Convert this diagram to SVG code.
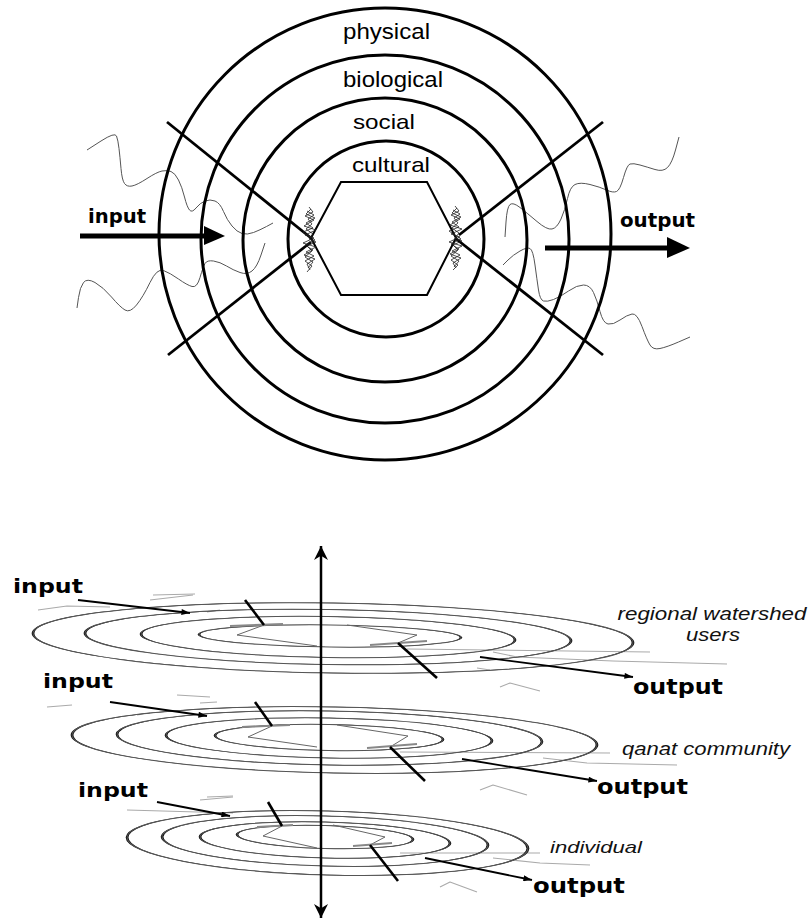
<svg xmlns="http://www.w3.org/2000/svg" xmlns:xlink="http://www.w3.org/1999/xlink" width="811" height="923" viewBox="0 0 811 923">
<style>
.ring{fill:none;stroke:#000;stroke-width:3}
.hex{fill:none;stroke:#000;stroke-width:2}
.xl{fill:none;stroke:#000;stroke-width:2.8;stroke-linecap:butt}
.wave{fill:none;stroke:#555;stroke-width:1;stroke-linejoin:round}
.scrib{fill:none;stroke:#222;stroke-width:0.8;stroke-linejoin:round}
.lring{fill:none;stroke:#111}
.thin{fill:none;stroke:#555;stroke-width:1}
.lhex{fill:none;stroke:#666;stroke-width:1}
.lx{fill:none;stroke:#000;stroke-width:2.6}
.faint{fill:none;stroke:#aaa;stroke-width:1.1;stroke-linejoin:round}
.lscrib{fill:none;stroke:#888;stroke-width:2.2}
.lbl{font-family:"Liberation Sans",Arial,sans-serif;fill:#000}
.it{font-family:"Liberation Sans",Arial,sans-serif;font-style:italic;fill:#111}
.bold{font-family:"DejaVu Sans",Verdana,sans-serif;font-weight:bold;fill:#000}
.arr{fill:none;stroke:#000;stroke-width:1.8}
</style>
<defs>
<circle id="u" r="1"/>
<marker id="sm" viewBox="0 0 10 7" markerUnits="userSpaceOnUse" markerWidth="14" markerHeight="6" refX="10" refY="3.5" orient="auto"><path d="M0,0 L10,3.5 L0,7 z" fill="#000"/></marker>
<marker id="ax" viewBox="0 0 10 10" markerUnits="userSpaceOnUse" markerWidth="15" markerHeight="14" refX="10" refY="5" orient="auto-start-reverse"><path d="M0,0 L10,5 L0,10 L3,5 z" fill="#000"/></marker>
</defs>

<g id="top-diagram">
  <g id="wavy-lines">
    <path class="wave" d="M87,150 L101,141 Q115,132 116.5,136 Q118,140 119,148.5 Q120,157 121,168.5 Q122,180 124.5,183.5 Q127,187 132,186 Q137,185 147,178.5 Q157,172 162,171 Q167,170 171,171.5 Q175,173 178.5,180 Q182,187 184.5,197 Q187,207 189.5,210 Q192,213 196,208 Q200,203 205,201 Q210,199 215,201 Q220,203 223.5,211.5 Q227,220 232,226 Q237,232 242,233.5 Q247,235 253.5,232.5 Q260,230 266.5,226.5 L273,223"/>
    <path class="wave" d="M77,308 L78.5,297.5 Q80,287 83.5,282.5 Q87,278 95,282.5 Q103,287 111.5,297 Q120,307 125,310 Q130,313 136.5,305 Q143,297 150,282.5 Q157,268 163.5,270.5 Q170,273 178.5,279 Q187,285 192,286.5 Q197,288 200,277.5 Q203,267 205,263.5 Q207,260 213.5,261 Q220,262 226.5,266 Q233,270 240,272.5 Q247,275 252,271 Q257,267 261,255 L265,243"/>
    <path class="wave" d="M505,237 L506,222 Q507,207 510,204.5 Q513,202 520,207.5 Q527,213 537,221.5 Q547,230 552,229 Q557,228 561,219 Q565,210 567.5,198.5 Q570,187 575,184.5 Q580,182 590,184.5 Q600,187 606.5,190 Q613,193 616.5,191.5 Q620,190 623.5,177.5 Q627,165 630,164 Q633,163 640,165 Q647,167 655,169.5 Q663,172 667.5,167.5 Q672,163 675.5,150 L679,137"/>
    <path class="wave" d="M503,265 L508,260 Q513,255 520,251 Q527,247 530,248.5 Q533,250 535,265 Q537,280 538.5,290 Q540,300 543.5,301 Q547,302 553.5,299.5 Q560,297 568.5,291 Q577,285 583.5,285 Q590,285 593.5,292.5 Q597,300 600,311.5 Q603,323 608,324 Q613,325 620,320 Q627,315 632,314 Q637,313 642,326.5 Q647,340 650,345 Q653,350 660,348.5 Q667,347 678.5,342 L690,337"/>
  </g>
  <g id="ring-physical"><circle class="ring" cx="385" cy="234" r="226"/><text class="lbl" x="343" y="39" font-size="22" textLength="87" lengthAdjust="spacingAndGlyphs">physical</text></g>
  <g id="ring-biological"><circle class="ring" cx="385" cy="239" r="184"/><text class="lbl" x="343" y="87" font-size="22" textLength="100" lengthAdjust="spacingAndGlyphs">biological</text></g>
  <g id="ring-social"><circle class="ring" cx="385" cy="240" r="142"/><text class="lbl" x="353" y="129" font-size="21" textLength="62" lengthAdjust="spacingAndGlyphs">social</text></g>
  <g id="ring-cultural"><circle class="ring" cx="386" cy="239" r="98"/><text class="lbl" x="352" y="172" font-size="21" textLength="78" lengthAdjust="spacingAndGlyphs">cultural</text></g>
  <g id="hexagon"><polygon class="hex" points="311,238 341,182 427,182 456,238 427,295 341,295"/></g>
  <g id="cross-left">
    <line class="xl" x1="167" y1="122" x2="311" y2="238"/>
    <line class="xl" x1="168" y1="355" x2="311" y2="242"/>
    <polyline class="scrib" points="309,207 313,212 305,216 314,220 304,226 316,230 305,235 314,238 303,243 316,247 306,252 314,256 305,261 312,266 307,272"/>
    <polyline class="scrib" points="311,209 306,214 315,218 306,223 313,228 303,232 315,240 305,245 313,250 304,255 315,259 307,264 310,270"/>
    <polyline class="scrib" points="307,211 314,215 308,219 312,224 306,229 313,234 309,239 316,242 307,246 312,251 305,257 313,262 308,268"/>
  </g>
  <g id="cross-right">
    <line class="xl" x1="603" y1="122" x2="459" y2="235"/>
    <line class="xl" x1="603" y1="355" x2="455" y2="238"/>
    <polyline class="scrib" points="455,206 459,211 451,215 460,219 450,225 462,229 451,234 460,237 449,242 462,246 452,251 460,255 451,260 458,265 453,270"/>
    <polyline class="scrib" points="457,208 452,213 461,217 452,222 459,227 449,231 461,239 451,244 459,249 450,254 461,258 453,263 456,268"/>
    <polyline class="scrib" points="453,210 460,214 454,218 458,223 452,228 459,233 455,238 462,241 453,245 458,250 451,256 459,261 454,267"/>
  </g>
  <g id="top-input"><text class="bold" x="88" y="223" font-size="19" textLength="58" lengthAdjust="spacingAndGlyphs">input</text></g>
  <g id="top-output"><text class="bold" x="620" y="227" font-size="20" textLength="75" lengthAdjust="spacingAndGlyphs">output</text></g>
</g>

<g id="layer-regional">
  <g class="faint-lines">
    <polyline class="faint" points="38,610 67,606 110,607"/>
    <polyline class="faint" points="153,595 195,594"/>
    <polyline class="faint" points="150,600 193,595"/>
    <polyline class="faint" points="207,612 220,610"/>
    <polyline class="faint" points="407,649 650,652"/>
    <polyline class="faint" points="493,652 517,657 613,661 727,664"/>
    <polyline class="faint" points="500,687 510,683 540,691"/>
    <polyline class="faint" points="477,668 490,670"/>
  </g>
  <use href="#u" class="lring" transform="translate(333,638) rotate(0.9) scale(300,35)" style="stroke-width:0.0093"/>
  <use href="#u" class="lring" transform="translate(328,637) rotate(0.9) scale(243,27.5)" style="stroke-width:0.0115"/>
  <use href="#u" class="lring" transform="translate(328,637) rotate(0.9) scale(187,20.5)" style="stroke-width:0.015"/>
  <use href="#u" class="lring" transform="translate(330,636) rotate(0.7) scale(131,11)" style="stroke-width:0.021"/>
  <ellipse class="thin" cx="333" cy="638" rx="300" ry="35" transform="rotate(0.9 333 638)"/>
  <ellipse class="thin" cx="328" cy="637" rx="243" ry="27.5" transform="rotate(0.9 328 637)"/>
  <ellipse class="thin" cx="328" cy="637" rx="187" ry="20.5" transform="rotate(0.9 328 637)"/>
  <ellipse class="thin" cx="330" cy="636" rx="131" ry="11" transform="rotate(0.7 330 636)"/>
  <polyline class="lhex" points="264,625 237,635 317,646"/>
  <polyline class="lhex" points="347,625 417,635 398,643"/>
  <line class="lscrib" x1="230" y1="626" x2="283" y2="624"/>
  <line class="lscrib" x1="370" y1="645" x2="427" y2="641"/>
  <line class="lx" x1="245" y1="600" x2="264" y2="625"/>
  <line class="lx" x1="398" y1="643" x2="437" y2="678"/>
  <text class="bold" x="13" y="593" font-size="20" textLength="70" lengthAdjust="spacingAndGlyphs">input</text>
  <text class="it" x="712" y="620" font-size="17.5" text-anchor="middle" textLength="189" lengthAdjust="spacingAndGlyphs">regional watershed</text>
  <text class="it" x="713" y="641" font-size="18" text-anchor="middle" textLength="54" lengthAdjust="spacingAndGlyphs">users</text>
  <text class="bold" x="633" y="694" font-size="22" textLength="90" lengthAdjust="spacingAndGlyphs">output</text>
</g>

<g id="layer-qanat">
  <g class="faint-lines">
    <polyline class="faint" points="47,707 72,705"/>
    <polyline class="faint" points="137,715 150,713"/>
    <polyline class="faint" points="200,703 217,702"/>
    <polyline class="faint" points="177,695 210,697"/>
    <polyline class="faint" points="400,752 610,753"/>
    <polyline class="faint" points="543,758 587,763 677,765"/>
    <polyline class="faint" points="480,790 493,785 527,795"/>
  </g>
  <use href="#u" class="lring" transform="translate(334.5,740) rotate(1.1) scale(262.5,33)" style="stroke-width:0.0107"/>
  <use href="#u" class="lring" transform="translate(329.5,738) rotate(1) scale(212.5,27)" style="stroke-width:0.013"/>
  <use href="#u" class="lring" transform="translate(329,738) rotate(1) scale(163,20)" style="stroke-width:0.017"/>
  <use href="#u" class="lring" transform="translate(329,737.5) rotate(1) scale(114,13)" style="stroke-width:0.024"/>
  <ellipse class="thin" cx="334.5" cy="740" rx="262.5" ry="33" transform="rotate(1.1 334.5 740)"/>
  <ellipse class="thin" cx="329.5" cy="738" rx="212.5" ry="27" transform="rotate(1 329.5 738)"/>
  <ellipse class="thin" cx="329" cy="738" rx="163" ry="20" transform="rotate(1 329 738)"/>
  <ellipse class="thin" cx="329" cy="737.5" rx="114" ry="13" transform="rotate(1 329 737.5)"/>
  <polyline class="lhex" points="272,726 248,737 317,747"/>
  <polyline class="lhex" points="337,725 408,736 390,747"/>
  <line class="lscrib" x1="242" y1="727" x2="290" y2="725"/>
  <line class="lscrib" x1="367" y1="748" x2="417" y2="744"/>
  <line class="lx" x1="255" y1="702" x2="272" y2="726"/>
  <line class="lx" x1="390" y1="747" x2="425" y2="781"/>
  <text class="bold" x="43" y="688" font-size="20" textLength="70" lengthAdjust="spacingAndGlyphs">input</text>
  <text class="it" x="622" y="755" font-size="18" textLength="168" lengthAdjust="spacingAndGlyphs">qanat community</text>
  <text class="bold" x="597" y="794" font-size="22" textLength="91" lengthAdjust="spacingAndGlyphs">output</text>
</g>

<g id="layer-individual">
  <g class="faint-lines">
    <polyline class="faint" points="127,810 233,813"/>
    <polyline class="faint" points="200,800 233,797"/>
    <polyline class="faint" points="207,797 233,796"/>
    <polyline class="faint" points="400,853 540,853"/>
    <polyline class="faint" points="493,858 540,863 590,865"/>
    <polyline class="faint" points="440,887 450,882 477,892"/>
  </g>
  <use href="#u" class="lring" transform="translate(327.5,843) rotate(1.6) scale(200.5,32)" style="stroke-width:0.014"/>
  <use href="#u" class="lring" transform="translate(325,841) rotate(1.5) scale(163,25)" style="stroke-width:0.017"/>
  <use href="#u" class="lring" transform="translate(325,840) rotate(1.5) scale(125,18)" style="stroke-width:0.022"/>
  <use href="#u" class="lring" transform="translate(325,837) rotate(1.6) scale(88,11.5)" style="stroke-width:0.031"/>
  <ellipse class="thin" cx="327.5" cy="843" rx="200.5" ry="32" transform="rotate(1.6 327.5 843)"/>
  <ellipse class="thin" cx="325" cy="841" rx="163" ry="25" transform="rotate(1.5 325 841)"/>
  <ellipse class="thin" cx="325" cy="840" rx="125" ry="18" transform="rotate(1.5 325 840)"/>
  <ellipse class="thin" cx="325" cy="837" rx="88" ry="11.5" transform="rotate(1.6 325 837)"/>
  <polyline class="lhex" points="282,826 263,836 317,848"/>
  <polyline class="lhex" points="333,825 385,837 370,845"/>
  <line class="lscrib" x1="257" y1="827" x2="293" y2="825"/>
  <line class="lscrib" x1="353" y1="846" x2="392" y2="843"/>
  <line class="lx" x1="268" y1="802" x2="282" y2="826"/>
  <line class="lx" x1="370" y1="845" x2="398" y2="881"/>
  <text class="bold" x="78" y="797" font-size="20" textLength="70" lengthAdjust="spacingAndGlyphs">input</text>
  <text class="it" x="550" y="853" font-size="17" textLength="92" lengthAdjust="spacingAndGlyphs">individual</text>
  <text class="bold" x="533" y="893" font-size="22" textLength="92" lengthAdjust="spacingAndGlyphs">output</text>
</g>

<g id="connectors">
  <line x1="80" y1="236" x2="207" y2="236" stroke="#000" stroke-width="5"/>
  <polygon points="204,226 225,236 204,245" fill="#000"/>
  <line x1="545" y1="248" x2="670" y2="248" stroke="#000" stroke-width="5"/>
  <polygon points="667,237 690,248 667,258" fill="#000"/>
  <line class="arr" x1="78" y1="600" x2="190" y2="613" marker-end="url(#sm)"/>
  <line class="arr" x1="480" y1="657" x2="633" y2="677" marker-end="url(#sm)"/>
  <line class="arr" x1="110" y1="702" x2="207" y2="716" marker-end="url(#sm)"/>
  <line class="arr" x1="462" y1="759" x2="597" y2="781" marker-end="url(#sm)"/>
  <line class="arr" x1="157" y1="802" x2="230" y2="816" marker-end="url(#sm)"/>
  <line class="arr" x1="425" y1="858" x2="532" y2="880" marker-end="url(#sm)"/>
  <line x1="321" y1="546" x2="321" y2="918" stroke="#000" stroke-width="2.5" marker-start="url(#ax)" marker-end="url(#ax)"/>
</g>
</svg>
